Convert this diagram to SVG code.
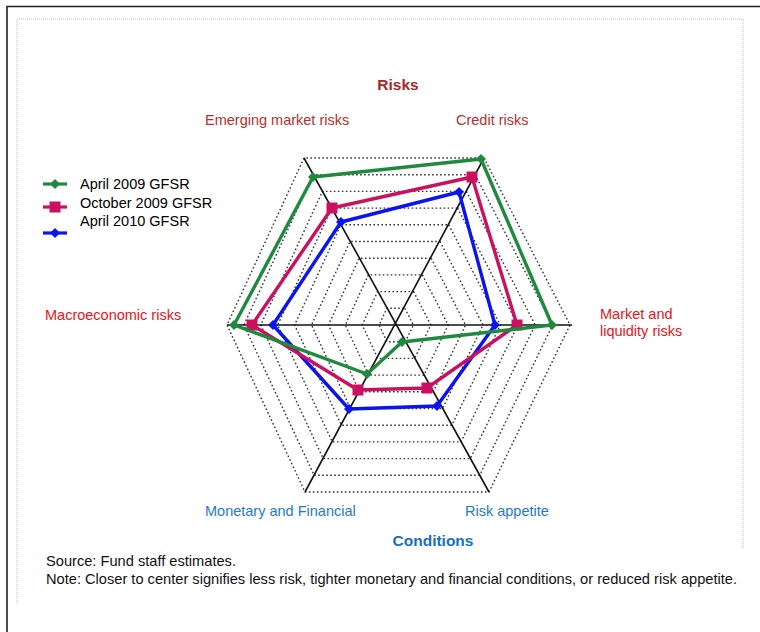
<svg xmlns="http://www.w3.org/2000/svg" width="760" height="632" viewBox="0 0 760 632">
<defs>
<style>
text{font-family:"Liberation Sans",Arial,sans-serif;font-size:14.5px}
.ring{fill:none;stroke:#333;stroke-width:1.4;stroke-dasharray:1.6 2.4}
.axis{stroke:#111;stroke-width:1.6}
.ser{fill:none;stroke-width:3.4;stroke-linejoin:round}
.rk{fill:#B8302C}
.rk2{fill:#E8141A}
.cd{fill:#1F7ACB}
.ttl{font-weight:bold;font-size:15.5px}
.nt{font-size:14.5px;fill:#111}
</style>
<path id="dia" d="M0,-5 L5,0 L0,5 L-5,0 Z"/>
<path id="sq" d="M-5.5,-5.5 H5.5 V5.5 H-5.5 Z"/>
</defs>
<rect width="760" height="632" fill="#fff"/>
<path d="M7,632 V6.5 H760" fill="none" stroke="#222" stroke-width="1.6"/>
<path d="M17,603 V19 H743 V548" fill="none" stroke="#bbb" stroke-width="1" stroke-dasharray="1 1"/>

<g id="grid">
<polygon class="ring" points="484,158 570,325 489,492 305,492 227,325 304,158"/>
<polygon class="ring" points="475.2,174.7 552.6,325 479.7,475.3 314.1,475.3 243.9,325 313.2,174.7"/>
<polygon class="ring" points="466.4,191.4 535.2,325 470.4,458.6 323.2,458.6 260.8,325 322.4,191.4"/>
<polygon class="ring" points="457.6,208.1 517.8,325 461.1,441.9 332.3,441.9 277.7,325 331.6,208.1"/>
<polygon class="ring" points="448.8,224.8 500.4,325 451.8,425.2 341.4,425.2 294.6,325 340.8,224.8"/>
<polygon class="ring" points="440,241.5 483,325 442.5,408.5 350.5,408.5 311.5,325 350,241.5"/>
<polygon class="ring" points="431.2,258.2 465.6,325 433.2,391.8 359.6,391.8 328.4,325 359.2,258.2"/>
<polygon class="ring" points="422.4,274.9 448.2,325 423.9,375.1 368.7,375.1 345.3,325 368.4,274.9"/>
<polygon class="ring" points="413.6,291.6 430.8,325 414.6,358.4 377.8,358.4 362.2,325 377.6,291.6"/>
<polygon class="ring" points="404.8,308.3 413.4,325 405.3,341.7 386.9,341.7 379.1,325 386.8,308.3"/>
</g>

<g id="axes">
<line class="axis" x1="227" y1="325" x2="572" y2="325"/>
<line class="axis" x1="304" y1="158" x2="489" y2="492"/>
<line class="axis" x1="484" y1="158" x2="305" y2="492"/>
</g>

<g id="series-apr2010">
<polygon class="ser" stroke="#0A14F0" points="459,192 495,325 437,406 349,409 273,325 341,222"/>
<g fill="#0A14F0">
<use href="#dia" x="459" y="192"/><use href="#dia" x="495" y="325"/><use href="#dia" x="437" y="406"/>
<use href="#dia" x="349" y="409"/><use href="#dia" x="273" y="325"/><use href="#dia" x="341" y="222"/>
</g>
</g>

<g id="series-oct2009">
<polygon class="ser" stroke="#CC1060" points="472,177 517,325 427,388 358,390 252,325 332,208"/>
<g fill="#CC1060">
<use href="#sq" x="472" y="177"/><use href="#sq" x="517" y="325"/><use href="#sq" x="427" y="388"/>
<use href="#sq" x="358" y="390"/><use href="#sq" x="252" y="325"/><use href="#sq" x="332" y="208"/>
</g>
</g>

<g id="series-apr2009">
<polygon class="ser" stroke="#1E8A3C" points="481,159 552,325 402,342 367,374 234,325 313,177"/>
<g fill="#1E8A3C">
<use href="#dia" x="481" y="159"/><use href="#dia" x="552" y="325"/><use href="#dia" x="402" y="342"/>
<use href="#dia" x="367" y="374"/><use href="#dia" x="234" y="325"/><use href="#dia" x="313" y="177"/>
</g>
</g>

<g id="legend">
<line x1="43" y1="184" x2="67" y2="184" stroke="#1E8A3C" stroke-width="3.2"/>
<use href="#dia" x="55" y="184" fill="#1E8A3C"/>
<text x="80" y="189">April 2009 GFSR</text>
<line x1="43" y1="207" x2="67" y2="207" stroke="#CC1060" stroke-width="3.2"/>
<use href="#sq" x="55" y="207" fill="#CC1060"/>
<text x="80" y="208">October 2009 GFSR</text>
<line x1="43" y1="233" x2="67" y2="233" stroke="#0A14F0" stroke-width="3.2"/>
<use href="#dia" x="55" y="233" fill="#0A14F0"/>
<text x="80" y="226">April 2010 GFSR</text>
</g>

<g id="labels">
<text class="ttl" x="398" y="90" text-anchor="middle" fill="#A8282A">Risks</text>
<text class="rk" x="205" y="125">Emerging market risks</text>
<text class="rk" x="456" y="125">Credit risks</text>
<text class="rk2" x="600" y="319">Market and</text>
<text class="rk2" x="600" y="336">liquidity risks</text>
<text class="rk2" x="45" y="320">Macroeconomic risks</text>
<text class="cd" x="205" y="516">Monetary and Financial</text>
<text class="cd" x="465" y="516">Risk appetite</text>
<text class="ttl" x="433" y="546" text-anchor="middle" fill="#1670C0" font-size="16">Conditions</text>
<text class="nt" x="46" y="566" textLength="190" lengthAdjust="spacingAndGlyphs">Source: Fund staff estimates.</text>
<text class="nt" x="46" y="584" textLength="691" lengthAdjust="spacingAndGlyphs">Note: Closer to center signifies less risk, tighter monetary and financial conditions, or reduced risk appetite.</text>
</g>
</svg>
